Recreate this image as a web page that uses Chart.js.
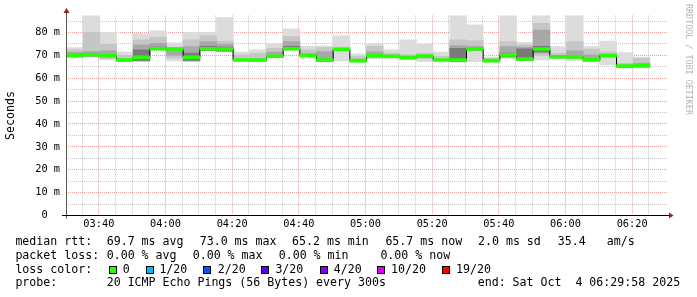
<!DOCTYPE html>
<html><head><meta charset="utf-8">
<script src="https://cdn.jsdelivr.net/npm/chart.js@4.4.1/dist/chart.umd.min.js"></script>
<style>
html,body{margin:0;padding:0;background:#fff;}
#wrap{position:relative;width:697px;height:297px;overflow:hidden;background:#fff;}
canvas{position:absolute;left:0;top:0;}
.t{position:absolute;font-family:"DejaVu Sans Mono",monospace;font-size:11.6px;line-height:13px;color:#000;white-space:pre;}
.sw{position:absolute;width:6px;height:6px;border:1px solid #000;}
#credit{position:absolute;left:684px;top:4px;font-family:"DejaVu Sans Mono",monospace;font-size:8.4px;line-height:9px;color:#b4b4b4;writing-mode:vertical-rl;white-space:pre;}
</style></head><body>
<div id="wrap"><canvas id="c" width="697" height="297"></canvas><div id="credit">RRDTOOL / TOBI OETIKER</div></div>
<script>
// ---- data (ms) ----
const slotStart = ['03:30','03:35','03:40','03:45','03:50','03:55','04:00','04:05','04:10','04:15','04:20','04:25','04:30','04:35','04:40','04:45','04:50','04:55','05:00','05:05','05:10','05:15','05:20','05:25','05:30','05:35','05:40','05:45','05:50','05:55','06:00','06:05','06:10','06:15','06:20'];
const medianRtt = [69.9,70.4,69.85,68.0,69.2,72.9,72.8,69.2,72.9,72.8,68.0,68.0,69.6,72.9,70.1,67.9,72.6,67.7,69.8,69.6,69.0,69.7,68.0,67.9,72.8,67.7,70.2,68.4,72.8,69.4,69.3,68.1,69.9,65.3,65.6];
const smokeMax = [73.4,87.7,80.1,71.4,79.5,80.7,75.5,80.1,80.1,86.5,71.4,72.4,75.0,81.6,74.1,74.1,78.5,70.6,74.9,72.4,76.8,74.9,71.4,87.7,83.3,69.2,87.7,75.7,87.7,73.85,87.7,73.85,76.3,71.2,69.2];
const smokeMin = [69.3,69.3,68.0,67.4,67.4,72.4,67.6,67.45,72.1,71.7,67.6,67.3,69.1,72.4,68.8,67.3,67.6,67.15,68.5,68.3,68.5,67.3,67.6,67.15,67.3,67.1,68.8,67.7,68.0,68.6,67.7,67.45,65.8,64.5,64.7];
const band2Hi = [72.4,80.1,74.9,70.0,76.8,77.9,73.6,76.8,78.5,76.3,70.2,70.9,73.1,78.2,72.4,73.4,73.5,69.5,73.9,70.9,70.4,71.0,69.6,76.8,76.5,68.6,76.0,74.6,84.0,70.9,76.0,72.8,71.6,66.5,68.7];
const band2Lo = [69.3,69.3,68.6,67.4,67.5,72.4,68.8,67.5,72.1,71.7,67.6,67.3,69.1,72.4,69.4,67.3,72.1,67.15,69.2,69.0,68.5,68.4,67.6,67.15,72.0,67.1,68.8,67.7,70.0,68.6,68.5,67.45,69.0,64.5,64.7];
const band3Hi = [71.3,71.7,72.0,null,74.6,75.3,72.4,73.85,76.0,74.9,null,null,71.4,76.0,null,71.7,null,null,71.5,null,null,null,null,74.3,74.0,null,73.85,73.6,81.1,null,72.0,70.2,null,null,66.5];
const band3Lo = [69.4,69.4,69.2,null,67.6,72.5,70.0,67.6,72.2,71.8,null,null,69.2,72.5,null,67.4,null,null,69.4,null,null,null,null,67.2,72.2,null,69.2,67.8,71.0,null,68.8,67.5,null,null,64.8];
const band4Hi = [null,null,null,null,72.4,73.6,null,71.0,73.9,73.6,null,null,null,74.0,null,null,null,null,null,null,null,null,null,73.1,null,null,71.0,72.9,74.0,null,null,null,null,null,null];
const band4Lo = [null,null,null,null,67.8,72.6,null,67.8,72.3,71.9,null,null,null,72.5,null,null,null,null,null,null,null,null,null,67.3,null,null,69.5,68.0,71.5,null,null,null,null,null,null];
const yTickStep = 5, yLabelStep = 10, yMax = 87.43;
const xStartLabel = '03:30', xTickStep = 5, xLabelEvery = 20, xFirstLabel = 10, xMax = 180.75;

const lossLabels = ['0','1/20','2/20','3/20','4/20','10/20','19/20'];
const lossColors = ['#26ff00','#00b8ff','#0059ff','#5e00ff','#7e00ff','#dd00ff','#ff0000'];

// ---- helpers ----
const toMin = s => { const [h,m] = s.split(':').map(Number); const [h0,m0] = xStartLabel.split(':').map(Number); return (h*60+m)-(h0*60+m0); };
const fromMin = v => { const [h0,m0] = xStartLabel.split(':').map(Number); const t = h0*60+m0+v; return String(Math.floor(t/60)).padStart(2,'0')+':'+String(t%60).padStart(2,'0'); };
const xc = i => toMin(slotStart[i]) + 2.5 + 0.3;
const band = (hi, lo) => hi.map((h,i)=> (h==null||lo[i]==null) ? null : {x:xc(i), y:[lo[i], h]}).filter(Boolean);

const barCommon = {type:'bar', barPercentage:1, categoryPercentage:1, borderWidth:0};
const datasets = [
  Object.assign({}, barCommon, {label:'median', data: medianRtt.map((m,i)=>({x:xc(i), y:[m-0.65, m+0.65]})), backgroundColor:'#26ff00', order:0}),
  {type:'line', label:'step', data: medianRtt.map((m,i)=>({x:xc(i), y:m})), stepped:'middle', borderColor:'#000', borderWidth:1, pointRadius:0, order:1},
  Object.assign({}, barCommon, {label:'s4', data: band(band4Hi, band4Lo), backgroundColor:'#7a7a7a', order:2}),
  Object.assign({}, barCommon, {label:'s3', data: band(band3Hi, band3Lo), backgroundColor:'#a8a8a8', order:3}),
  Object.assign({}, barCommon, {label:'s2', data: band(band2Hi, band2Lo), backgroundColor:'#c6c6c6', order:4}),
  Object.assign({}, barCommon, {label:'s1', data: band(smokeMax, smokeMin), backgroundColor:'#dcdcdc', order:5}),
];

const RED = 'rgba(220,70,70,0.5)', GRAY = 'rgba(130,130,130,0.45)';
const mono = 'DejaVu Sans Mono';

const axesPlugin = {
  id:'axes',
  afterDraw(chart){
    const {ctx, chartArea:a} = chart;
    const ax = Math.floor(a.left)+1.5, ay = a.bottom;
    ctx.save();
    ctx.lineWidth = 1;
    ctx.strokeStyle = '#555';
    ctx.beginPath(); ctx.moveTo(ax, ay+3); ctx.lineTo(ax, a.top-3); ctx.stroke();
    ctx.strokeStyle = '#000';
    ctx.beginPath(); ctx.moveTo(a.left-3.5, ay); ctx.lineTo(a.right+2, ay); ctx.stroke();
    ctx.fillStyle = '#9b1c1c';
    ctx.beginPath(); ctx.moveTo(ax, a.top-7.5); ctx.lineTo(ax-3, a.top-2.5); ctx.lineTo(ax+3, a.top-2.5); ctx.closePath(); ctx.fill();
    ctx.beginPath(); ctx.moveTo(a.right+5.5, ay); ctx.lineTo(a.right+1, ay-3); ctx.lineTo(a.right+1, ay+3); ctx.closePath(); ctx.fill();
    ctx.restore();
  }
};

new Chart(document.getElementById('c'), {
  type:'bar',
  data:{datasets},
  plugins:[axesPlugin],
  options:{
    responsive:false, animation:false, devicePixelRatio:1,
    layout:{autoPadding:false, padding:{left:0, right:29, top:15.5, bottom:61.5}},
    plugins:{legend:{display:false}, tooltip:{enabled:false}},
    scales:{
      x:{type:'linear', stacked:true, offset:false, min:0, max:xMax,
        afterFit(s){ s.height = 20; },
        border:{display:false, dash:[1,1]},
        grid:{offset:false, drawTicks:false, borderDash:[1,1], lineWidth:1,
          color:c => { const v = c.tick && c.tick.value; if (v===0 || v>=180) return 'rgba(0,0,0,0)'; return ((v-xFirstLabel)%xLabelEvery===0) ? RED : GRAY; }},
        ticks:{stepSize:xTickStep, includeBounds:false, autoSkip:false, maxRotation:0, maxTicksLimit:100, padding:2.8,
          color:'#000', font:{family:mono, size:10.3},
          callback:v => ((v-xFirstLabel)%xLabelEvery===0 && v>0 && v<180) ? fromMin(v) : ''}
      },
      y:{type:'linear', stacked:false, min:0, max:yMax,
        afterFit(s){ s.width = 65.5; },
        border:{display:false, dash:[1,1]},
        grid:{drawTicks:false, borderDash:[1,1], lineWidth:1,
          color:c => { const v = c.tick && c.tick.value; if (v===0) return 'rgba(0,0,0,0)'; return (v%yLabelStep===0) ? RED : GRAY; }},
        ticks:{stepSize:yTickStep, includeBounds:false, autoSkip:false, maxTicksLimit:100, padding:5.5,
          color:'#000', font:{family:mono, size:10.3},
          callback:v => (v%yLabelStep===0) ? (v===0 ? ' 0  ' : v+' m') : ''},
        title:{display:true, text:'Seconds', color:'#000', font:{family:mono, size:11.6}, padding:{top:4, bottom:0}}
      }
    }
  }
});

// ---- legend block (text) ----
const legendLines = [
  {top:235.2, items:[[15.4,'median rtt:'],[106.7,'69.7 ms avg'],[199.7,'73.0 ms max'],[292,'65.2 ms min'],[385.4,'65.7 ms now'],[478,'2.0 ms sd'],[557.7,'35.4'],[606.7,'am/s']]},
  {top:248.8, items:[[15.4,'packet loss:'],[106.7,'0.00 % avg'],[192.7,'0.00 % max'],[278.7,'0.00 % min'],[380.4,'0.00 % now']]},
  {top:262.8, items:[[15.4,'loss color:']]},
  {top:276.2, items:[[15.4,'probe:'],[106.7,'20 ICMP Echo Pings (56 Bytes) every 300s'],[477.7,'end: Sat Oct  4 06:29:58 2025']]}
];
const swatchX = [108.5,145.5,203.3,261.3,320,377.3,442.3];
const swatchTextX = [122.7,159.4,217.7,275.4,333.7,391.1,456.1];
const wrap = document.getElementById('wrap');
legendLines.forEach(l => l.items.forEach(([x,txt]) => {
  const d = document.createElement('div'); d.className='t'; d.style.left=x+'px'; d.style.top=l.top+'px'; d.textContent=txt; wrap.appendChild(d);
}));
lossLabels.forEach((lab,i) => {
  const s = document.createElement('div'); s.className='sw'; s.style.left=swatchX[i]+'px'; s.style.top='265.5px'; s.style.background=lossColors[i]; wrap.appendChild(s);
  const d = document.createElement('div'); d.className='t'; d.style.left=swatchTextX[i]+'px'; d.style.top='262.8px'; d.textContent=lab; wrap.appendChild(d);
});
</script>
</body></html>
